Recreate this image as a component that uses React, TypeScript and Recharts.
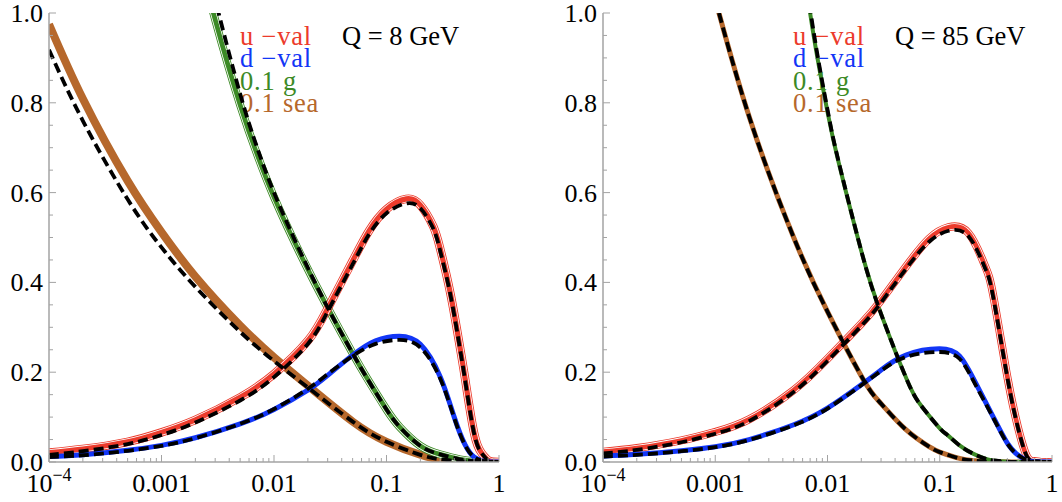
import React from 'react';
import { LineChart, Line, XAxis, YAxis } from 'recharts';

// ---------- tick values ----------
const X_TICKS = [
  1e-4, 2e-4, 3e-4, 4e-4, 5e-4, 6e-4, 7e-4, 8e-4, 9e-4,
  1e-3, 2e-3, 3e-3, 4e-3, 5e-3, 6e-3, 7e-3, 8e-3, 9e-3,
  0.01, 0.02, 0.03, 0.04, 0.05, 0.06, 0.07, 0.08, 0.09,
  0.1, 0.2, 0.3, 0.4, 0.5, 0.6, 0.7, 0.8, 0.9, 1,
];
const X_LABELS: Record<string, string> = { '0.001': '0.001', '0.01': '0.01', '0.1': '0.1', '1': '1' };
const Y_TICKS = [0, 0.05, 0.1, 0.15, 0.2, 0.25, 0.3, 0.35, 0.4, 0.45, 0.5, 0.55, 0.6, 0.65, 0.7, 0.75, 0.8, 0.85, 0.9, 0.95, 1];
const Y_LABELS = ['0.0', '0.2', '0.4', '0.6', '0.8', '1.0'];

const TITLES = ['Q = 8 GeV', 'Q = 85 GeV'];
const LEGEND = ['u −val', 'd −val', '0.1 g', '0.1 sea'];

// ---------- left panel (Q = 8 GeV) ----------
const L_U_X = [1e-4, 2e-4, 5e-4, 1e-3, 2e-3, 5e-3, 0.01, 0.02, 0.03, 0.05, 0.07, 0.1, 0.15, 0.2, 0.26, 0.3, 0.37, 0.45, 0.5, 0.6, 0.7, 0.8, 0.9, 1];
const L_U_BAND = [0.021, 0.029, 0.045, 0.066, 0.094, 0.144, 0.196, 0.27, 0.342, 0.448, 0.515, 0.563, 0.586, 0.572, 0.525, 0.475, 0.375, 0.255, 0.185, 0.065, 0.02, 0.004, 0.0005, 0];
const L_U_DASH = [0.016, 0.024, 0.04, 0.06, 0.088, 0.137, 0.189, 0.263, 0.335, 0.44, 0.507, 0.554, 0.576, 0.565, 0.52, 0.47, 0.372, 0.252, 0.182, 0.064, 0.02, 0.004, 0.0005, 0];

const L_D_X = [1e-4, 2e-4, 5e-4, 1e-3, 2e-3, 5e-3, 0.01, 0.02, 0.03, 0.05, 0.08, 0.13, 0.2, 0.3, 0.4, 0.5, 0.6, 0.7, 0.8, 1];
const L_D_BAND = [0.012, 0.016, 0.026, 0.037, 0.054, 0.085, 0.117, 0.16, 0.193, 0.238, 0.27, 0.28, 0.262, 0.19, 0.1, 0.038, 0.011, 0.003, 0.0005, 0];
const L_D_DASH = [0.011, 0.015, 0.025, 0.036, 0.053, 0.085, 0.118, 0.163, 0.196, 0.236, 0.263, 0.272, 0.255, 0.186, 0.098, 0.037, 0.011, 0.003, 0.0005, 0];

const L_G_X = [0.002, 0.003, 0.005, 0.0072, 0.01, 0.017, 0.03, 0.05, 0.067, 0.1, 0.132, 0.2, 0.3, 0.45, 0.6, 0.8, 1];
const L_G_BAND = [1.16, 0.985, 0.795, 0.68, 0.59, 0.465, 0.344, 0.242, 0.187, 0.117, 0.077, 0.036, 0.017, 0.006, 0.0018, 0.0002, 0];
const L_G_DASH = [1.21, 1.03, 0.82, 0.695, 0.6, 0.47, 0.344, 0.242, 0.187, 0.117, 0.077, 0.036, 0.017, 0.006, 0.0018, 0.0002, 0];

const L_S_X = [1e-4, 2e-4, 5e-4, 1e-3, 2e-3, 5e-3, 0.01, 0.02, 0.05, 0.1, 0.2, 0.3, 0.5, 1];
const L_S_BAND = [0.975, 0.809, 0.626, 0.512, 0.413, 0.304, 0.233, 0.17, 0.09, 0.045, 0.016, 0.006, 0.001, 0];
const L_S_DASH = [0.918, 0.76, 0.585, 0.478, 0.39, 0.29, 0.225, 0.166, 0.09, 0.045, 0.016, 0.006, 0.001, 0];

// ---------- right panel (Q = 85 GeV) ----------
const R_U_X = [1e-4, 2e-4, 5e-4, 1e-3, 2e-3, 5e-3, 0.01, 0.02, 0.03, 0.05, 0.08, 0.12, 0.18, 0.25, 0.3, 0.4, 0.5, 0.6, 0.7, 0.8, 1];
const R_U_BAND = [0.023, 0.031, 0.048, 0.067, 0.095, 0.16, 0.23, 0.308, 0.36, 0.435, 0.497, 0.523, 0.51, 0.44, 0.37, 0.19, 0.075, 0.012, 0.002, 0.0003, 0];
const R_U_DASH = [0.019, 0.027, 0.044, 0.063, 0.091, 0.156, 0.225, 0.303, 0.355, 0.43, 0.49, 0.515, 0.503, 0.435, 0.366, 0.188, 0.074, 0.012, 0.002, 0.0003, 0];

const R_D_X = [1e-4, 2e-4, 5e-4, 1e-3, 2e-3, 5e-3, 0.01, 0.02, 0.03, 0.05, 0.1, 0.15, 0.2, 0.3, 0.4, 0.5, 0.6, 0.7, 1];
const R_D_BAND = [0.013, 0.017, 0.025, 0.034, 0.05, 0.083, 0.12, 0.172, 0.205, 0.238, 0.252, 0.236, 0.185, 0.1, 0.042, 0.015, 0.004, 0.001, 0];
const R_D_DASH = [0.012, 0.016, 0.024, 0.033, 0.049, 0.082, 0.119, 0.171, 0.203, 0.234, 0.245, 0.23, 0.18, 0.098, 0.041, 0.015, 0.004, 0.001, 0];

const R_G_X = [0.005, 0.007, 0.01, 0.0124, 0.02, 0.03, 0.051, 0.07, 0.1, 0.116, 0.15, 0.2, 0.25, 0.3, 0.4, 0.5, 1];
const R_G_BAND = [1.3, 1.0, 0.78, 0.673, 0.47, 0.33, 0.183, 0.122, 0.075, 0.061, 0.037, 0.018, 0.008, 0.0035, 0.0006, 0.0001, 0];
const R_G_DASH = [1.32, 1.01, 0.785, 0.675, 0.47, 0.33, 0.183, 0.122, 0.075, 0.061, 0.037, 0.018, 0.008, 0.0035, 0.0006, 0.0001, 0];

const R_S_X = [0.0007, 0.001, 0.002, 0.005, 0.01, 0.0207, 0.03, 0.05, 0.0817, 0.1, 0.15, 0.2, 0.3, 1];
const R_S_BAND = [1.16, 1.03, 0.77, 0.5, 0.335, 0.185, 0.13, 0.072, 0.033, 0.022, 0.008, 0.003, 0.0005, 0];
const R_S_DASH = [1.16, 1.03, 0.77, 0.5, 0.335, 0.185, 0.13, 0.072, 0.033, 0.022, 0.008, 0.003, 0.0005, 0];

// ---------- styles ----------
const FRAME = '#a3a3a3';
const FONT = "'Liberation Serif', 'Times New Roman', serif";
const RED = '#ec3b2c';
const BLUE = '#1236f6';
const GREEN = '#3c8a26';
const ORANGE = '#b6682c';
const LEGEND_COLORS = [RED, BLUE, GREEN, ORANGE];
const CURVE = 'natural';

const zip = (xs: number[], ys: number[]) => xs.map((x, i) => ({ x, y: ys[i] }));

const isMajorX = (v: number) => {
  const l = Math.log10(v);
  return Math.abs(l - Math.round(l)) < 1e-6;
};
const isMajorY = (v: number) => Math.abs(v * 5 - Math.round(v * 5)) < 1e-6;

const BottomTick = (p: any) => {
  const { x, y, payload } = p;
  const v = payload.value as number;
  const major = isMajorX(v);
  let label: React.ReactNode = null;
  if (major) {
    if (Math.abs(v - 1e-4) < 1e-9) {
      label = (
        <text x={x} y={y + 30} textAnchor="middle" fontSize={26} fontFamily={FONT} fill="#000">
          <tspan>10</tspan>
          <tspan dy={-11} fontSize={18}>−4</tspan>
        </text>
      );
    } else {
      const key = String(+v.toPrecision(3));
      label = (
        <text x={x} y={y + 30} textAnchor="middle" fontSize={26} fontFamily={FONT} fill="#000">
          {X_LABELS[key]}
        </text>
      );
    }
  }
  return (
    <g>
      <line x1={x} x2={x} y1={y} y2={y - (major ? 7 : 4)} stroke={FRAME} strokeWidth={1} />
      {label}
    </g>
  );
};

const TopTick = (p: any) => {
  const { x, y, payload } = p;
  const major = isMajorX(payload.value);
  return <line x1={x} x2={x} y1={y} y2={y + (major ? 7 : 4)} stroke={FRAME} strokeWidth={1} />;
};

const LeftTick = (p: any) => {
  const { x, y, payload } = p;
  const v = payload.value as number;
  const major = isMajorY(v);
  return (
    <g>
      <line x1={x} x2={x + (major ? 7 : 4)} y1={y} y2={y} stroke={FRAME} strokeWidth={1} />
      {major && (
        <text x={x - 6} y={y + 9} textAnchor="end" fontSize={26} fontFamily={FONT} fill="#000">
          {Y_LABELS[Math.round(v * 5)]}
        </text>
      )}
    </g>
  );
};

const RightTick = (p: any) => {
  const { x, y, payload } = p;
  const major = isMajorY(payload.value);
  return <line x1={x} x2={x - (major ? 7 : 4)} y1={y} y2={y} stroke={FRAME} strokeWidth={1} />;
};

type Series = { x: number[]; band: number[]; dash: number[]; color: string; width: number; rings: boolean };

function bandLines(id: string, i: number, s: Series) {
  const data = zip(s.x, s.band);
  const layers = s.rings
    ? [
        { c: s.color, w: s.width + 2.5 },
        { c: '#ffffff', w: s.width + 0.8 },
        { c: s.color, w: s.width - 0.8 },
      ]
    : [{ c: s.color, w: s.width }];
  return layers.map((l, k) => (
    <Line
      key={`${id}-band-${i}-${k}`}
      xAxisId="b"
      yAxisId="l"
      data={data}
      dataKey="y"
      type={CURVE}
      stroke={l.c}
      strokeWidth={l.w}
      dot={false}
      activeDot={false}
      isAnimationActive={false}
    />
  ));
}

function Panel(props: { left: number; width: number; yw: number; right: number; series: Series[]; id: string }) {
  const { left, width, yw, right, series, id } = props;
  return (
    <div style={{ position: 'absolute', left, top: 0 }}>
      <LineChart width={width} height={502} margin={{ top: 13, right, bottom: 0, left: 0 }}>
        <XAxis
          xAxisId="b"
          type="number"
          scale="log"
          dataKey="x"
          domain={[1e-4, 1]}
          allowDataOverflow
          ticks={X_TICKS}
          interval={0}
          height={40}
          tickSize={0}
          tickMargin={0}
          tickLine={false}
          tick={(p: any) => <BottomTick {...p} />}
          axisLine={{ stroke: FRAME, strokeWidth: 1.5 }}
        />
        <XAxis
          xAxisId="t"
          orientation="top"
          type="number"
          scale="log"
          dataKey="x"
          domain={[1e-4, 1]}
          allowDataOverflow
          ticks={X_TICKS}
          interval={0}
          height={0}
          tickSize={0}
          tickMargin={0}
          tickLine={false}
          tick={(p: any) => <TopTick {...p} />}
          axisLine={{ stroke: FRAME, strokeWidth: 1.5 }}
        />
        <YAxis
          yAxisId="l"
          type="number"
          domain={[0, 1]}
          allowDataOverflow
          ticks={Y_TICKS}
          interval={0}
          width={yw}
          tickSize={0}
          tickMargin={0}
          tickLine={false}
          tick={(p: any) => <LeftTick {...p} />}
          axisLine={{ stroke: FRAME, strokeWidth: 1.5 }}
        />
        <YAxis
          yAxisId="r"
          orientation="right"
          type="number"
          domain={[0, 1]}
          allowDataOverflow
          ticks={Y_TICKS}
          interval={0}
          width={0}
          tickSize={0}
          tickMargin={0}
          tickLine={false}
          tick={(p: any) => <RightTick {...p} />}
          axisLine={{ stroke: FRAME, strokeWidth: 1.5 }}
        />
        {series.map((s, i) => bandLines(id, i, s))}
        {series.map((s, i) => (
          <Line
            key={`${id}-dash-${i}`}
            xAxisId="b"
            yAxisId="l"
            data={zip(s.x, s.dash)}
            dataKey="y"
            type={CURVE}
            stroke="#000"
            strokeWidth={3.8}
            strokeDasharray="10 5"
            dot={false}
            activeDot={false}
            isAnimationActive={false}
          />
        ))}
      </LineChart>
    </div>
  );
}

const LEFT_SERIES: Series[] = [
  { x: L_S_X, band: L_S_BAND, dash: L_S_DASH, color: ORANGE, width: 8, rings: false },
  { x: L_G_X, band: L_G_BAND, dash: L_G_DASH, color: GREEN, width: 5.5, rings: true },
  { x: L_U_X, band: L_U_BAND, dash: L_U_DASH, color: RED, width: 6, rings: true },
  { x: L_D_X, band: L_D_BAND, dash: L_D_DASH, color: BLUE, width: 5, rings: false },
];
const RIGHT_SERIES: Series[] = [
  { x: R_S_X, band: R_S_BAND, dash: R_S_DASH, color: ORANGE, width: 5, rings: false },
  { x: R_G_X, band: R_G_BAND, dash: R_G_DASH, color: GREEN, width: 4, rings: false },
  { x: R_U_X, band: R_U_BAND, dash: R_U_DASH, color: RED, width: 5.5, rings: true },
  { x: R_D_X, band: R_D_BAND, dash: R_D_DASH, color: BLUE, width: 5, rings: false },
];

const LEGEND_X = [240, 793];
const TITLE_X = [342, 895];
const LEGEND_BASE = [45, 67, 90, 112];

export default function App() {
  return (
    <div style={{ position: 'absolute', left: 0, top: 0, width: 1062, height: 502, background: '#fff', overflow: 'hidden' }}>
      <svg width={1062} height={502} style={{ position: 'absolute', left: 0, top: 0 }}>
        {[0, 1].map((p) => (
          <g key={p} fontFamily={FONT} fontSize={26.5}>
            <text x={TITLE_X[p]} y={45} fill="#000">{TITLES[p]}</text>
            {LEGEND.map((t, i) => (
              <text key={t} x={LEGEND_X[p]} y={LEGEND_BASE[i]} fill={LEGEND_COLORS[i]} letterSpacing={0.8}>{t}</text>
            ))}
          </g>
        ))}
      </svg>
      <Panel id="L" left={0} width={510} yw={49} right={11} series={LEFT_SERIES} />
      <Panel id="R" left={540} width={522} yw={63} right={10} series={RIGHT_SERIES} />
    </div>
  );
}
